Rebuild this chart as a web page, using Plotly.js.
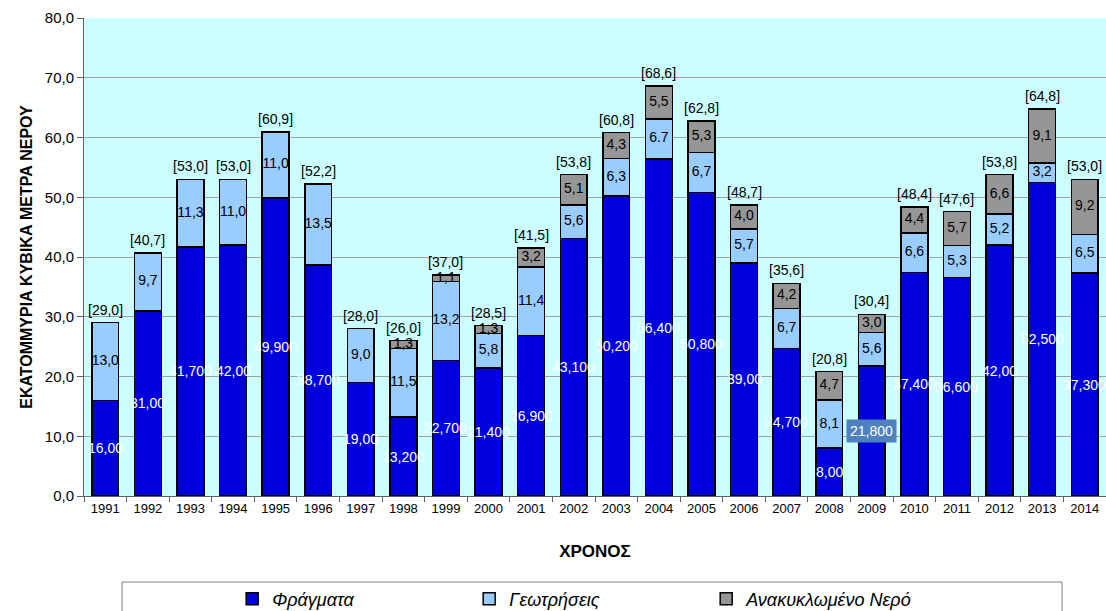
<!DOCTYPE html>
<html>
<head>
<meta charset="utf-8">
<script src="https://cdn.plot.ly/plotly-3.0.1.min.js"></script>
<style>
  html, body { margin: 0; padding: 0; background: #ffffff; }
  #chart { width: 1106px; height: 611px; }
</style>
</head>
<body>
<div id="chart"></div>
<script>
// Water supply by source, million m³ per year
const years = ['1991','1992','1993','1994','1995','1996','1997','1998','1999','2000','2001','2002',
               '2003','2004','2005','2006','2007','2008','2009','2010','2011','2012','2013','2014'];
const dams = [16.0, 31.0, 41.7, 42.0, 49.9, 38.7, 19.0, 13.2, 22.7, 21.4, 26.9, 43.1,
              50.2, 56.4, 50.8, 39.0, 24.7, 8.0, 21.8, 37.4, 36.6, 42.0, 52.5, 37.3];
const wells = [13.0, 9.7, 11.3, 11.0, 11.0, 13.5, 9.0, 11.5, 13.2, 5.8, 11.4, 5.6,
               6.3, 6.7, 6.7, 5.7, 6.7, 8.1, 5.6, 6.6, 5.3, 5.2, 3.2, 6.5];
const recycled = [0, 0, 0, 0, 0, 0, 0, 1.3, 1.1, 1.3, 3.2, 5.1,
                  4.3, 5.5, 5.3, 4.0, 4.2, 4.7, 3.0, 4.4, 5.7, 6.6, 9.1, 9.2];
const seriesNames = ['Φράγματα', 'Γεωτρήσεις', 'Ανακυκλωμένο Νερό'];
const yTickValues = [0, 10, 20, 30, 40, 50, 60, 70, 80];

const FONT = 'Liberation Sans, Arial, sans-serif';
const fmt = (v, d) => v.toFixed(d).replace('.', ',');
// dam figures: whole numbers carry two decimals, the rest three
const damFmt = v => Number.isInteger(v) ? fmt(v, 2) : fmt(v, 3);

const totals = years.map((_, i) => dams[i] + wells[i] + recycled[i]);
const wellText = wells.map(v => fmt(v, 1));
wellText[13] = wells[13].toFixed(1); // this year's label is printed with a decimal point

const barLine = { color: '#000000', width: 1.5 };
const bars = [
  { name: seriesNames[0], y: dams, color: '#0000DD' },
  { name: seriesNames[1], y: wells, color: '#99CCFF' },
  { name: seriesNames[2], y: recycled, color: '#969696' }
].map(s => ({
  type: 'bar', x: years, y: s.y, name: s.name,
  marker: { color: s.color, line: barLine },
  hoverinfo: 'x+y+name'
}));

const labelFont = { family: FONT, size: 14, color: '#000000', shadow: 'none' };

// values of the well segments, centred in each segment
const wellLabels = {
  type: 'scatter', mode: 'text', x: years,
  y: years.map((_, i) => dams[i] + wells[i] / 2),
  text: wellText, textposition: 'middle center',
  textfont: labelFont, showlegend: false, hoverinfo: 'skip', cliponaxis: false
};

// values of the recycled water segments (only years that have them)
const recIdx = years.map((_, i) => i).filter(i => recycled[i] > 0);
const recLabels = {
  type: 'scatter', mode: 'text',
  x: recIdx.map(i => years[i]),
  y: recIdx.map(i => dams[i] + wells[i] + recycled[i] / 2),
  text: recIdx.map(i => fmt(recycled[i], 1)), textposition: 'middle center',
  textfont: labelFont, showlegend: false, hoverinfo: 'skip', cliponaxis: false
};

// annotation x is the category index, so a year string is not read as a number
// dam values in white, centred in the dam segment
const damAnnotations = years.map((yr, i) => ({
  x: i, y: dams[i] / 2, xref: 'x', yref: 'y',
  text: damFmt(dams[i]), showarrow: false,
  font: { family: FONT, size: 14, color: '#ffffff', shadow: 'none' },
  bgcolor: yr === '2009' ? '#4F81BD' : 'rgba(0,0,0,0)',
  borderpad: 3
}));

// yearly totals above each column
const totalAnnotations = years.map((yr, i) => ({
  x: i, y: totals[i], xref: 'x', yref: 'y',
  text: '[' + fmt(totals[i], 1) + ']', showarrow: false,
  yanchor: 'bottom', yshift: 4, borderpad: 0,
  font: labelFont
}));

const layout = {
  width: 1106, height: 611,
  margin: { l: 84, r: 0, t: 18, b: 115, autoexpand: false },
  paper_bgcolor: '#ffffff',
  plot_bgcolor: '#CCFFFF',
  separators: ',.',
  barmode: 'stack',
  bargap: 0.37,
  font: { family: FONT, size: 13, color: '#000000' },
  xaxis: {
    type: 'category', range: [-0.5, years.length - 0.5], autorange: false,
    showline: true, linecolor: '#606060', linewidth: 1,
    ticks: 'outside', tickson: 'boundaries', ticklen: 5, tickcolor: '#606060',
    tickangle: 0,
    tickfont: { family: FONT, size: 13, color: '#000000' },
    title: { text: 'ΧΡΟΝΟΣ', font: { family: FONT, size: 17, color: '#000000', weight: 'bold' }, standoff: 30 },
    showgrid: false, zeroline: false
  },
  yaxis: {
    range: [0, 80], autorange: false, tickvals: yTickValues, tickformat: '.1f',
    showline: true, linecolor: '#606060', linewidth: 1,
    ticks: 'outside', ticklen: 6, tickcolor: '#606060',
    tickfont: { family: FONT, size: 15, color: '#000000' },
    gridcolor: '#A0A0A0', gridwidth: 1, zeroline: false,
    title: { text: 'ΕΚΑΤΟΜΜΥΡΙΑ ΚΥΒΙΚΑ ΜΕΤΡΑ ΝΕΡΟΥ', font: { family: FONT, size: 16, color: '#000000', weight: 'bold' }, standoff: 8 }
  },
  legend: {
    orientation: 'h', traceorder: 'normal',
    x: 0.145, xanchor: 'left', y: -0.2155, yanchor: 'middle',
    entrywidth: 192, entrywidthmode: 'pixels',
    bgcolor: 'rgba(0,0,0,0)', borderwidth: 0,
    font: { family: FONT, size: 18, color: '#000000', style: 'italic' }
  },
  shapes: [{
    type: 'rect', xref: 'paper', yref: 'paper',
    x0: 0.0372, x1: 0.957, y0: -0.18, y1: -0.3,
    line: { color: '#808080', width: 1 }, fillcolor: 'rgba(0,0,0,0)'
  }],
  annotations: damAnnotations.concat(totalAnnotations),
  showlegend: true
};

Plotly.newPlot('chart', [...bars, wellLabels, recLabels], layout,
  { displayModeBar: false, staticPlot: true });
</script>
</body>
</html>
